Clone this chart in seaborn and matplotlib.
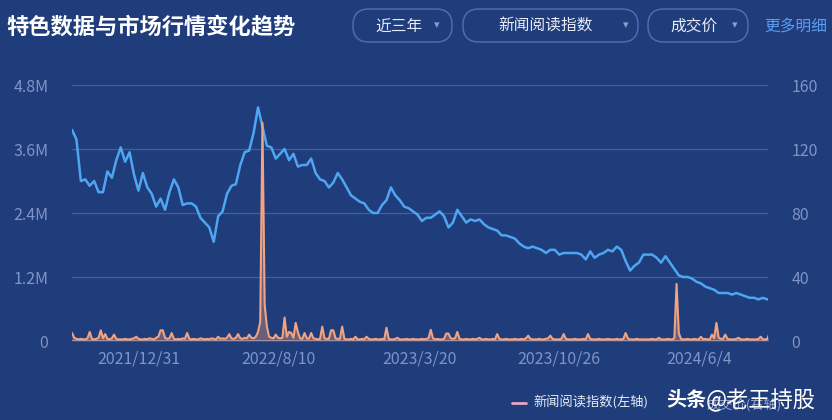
import numpy as np
import pandas as pd
import matplotlib
matplotlib.use('Agg')
import matplotlib.pyplot as plt
from matplotlib.patches import FancyBboxPatch
from matplotlib.ticker import FuncFormatter
import seaborn as sns

# dados lidos do grafico
# preco: valores semanais
datas_preco = pd.date_range('2021-09-17', '2024-09-20', freq='7D')
preco = [132, 126, 100, 101, 97, 100, 93, 93, 106, 102,
         113, 121, 112, 118, 104, 94, 105, 96, 92, 84,
         89, 82, 93, 101, 96, 85, 86, 86, 84, 77,
         74, 71, 62, 78, 81, 92, 97, 98, 110, 118,
         119, 130, 146, 134, 122, 121, 114, 117, 120, 113,
         117, 109, 110, 110, 114, 105, 101, 100, 96, 99,
         105, 101, 96, 91, 89, 87, 86, 82, 80, 80,
         85, 88, 96, 91, 88, 84, 83, 81, 79, 75,
         77, 77, 79, 81, 78, 71, 74, 82, 78, 74,
         76, 75, 76, 73, 71, 70, 69, 66, 66, 65,
         64, 61, 59, 58, 59, 58, 57, 55, 57, 57,
         54, 55, 55, 55, 55, 54, 51, 56, 52, 54,
         55, 57, 56, 59, 57, 50, 44, 47, 49, 54,
         54, 54, 52, 49, 53, 49, 45, 41, 40, 40,
         39, 37, 36, 34, 33, 32, 30, 30, 30, 29,
         30, 29, 28, 27, 27, 26, 27, 26]

# indice de leitura de noticias (milhoes), meia semana
datas_noticias = pd.date_range('2021-09-17', periods=316, freq='84h')
noticias = [0.15, 0.06, 0.04, 0.03, 0.04, 0.03, 0.03, 0.05, 0.17, 0.04, 0.03, 0.04, 0.06, 0.20, 0.05, 0.13, 0.04, 0.03, 0.05, 0.12,
            0.04, 0.03, 0.03, 0.03, 0.04, 0.03, 0.03, 0.04, 0.05, 0.08, 0.04, 0.03, 0.03, 0.04, 0.03, 0.05, 0.04, 0.03, 0.06, 0.08,
            0.20, 0.20, 0.06, 0.04, 0.05, 0.15, 0.04, 0.03, 0.04, 0.03, 0.05, 0.04, 0.15, 0.04, 0.03, 0.04, 0.03, 0.03, 0.05, 0.04,
            0.03, 0.04, 0.03, 0.05, 0.04, 0.03, 0.08, 0.04, 0.05, 0.04, 0.06, 0.13, 0.05, 0.04, 0.06, 0.13, 0.05, 0.04, 0.06, 0.05,
            0.12, 0.06, 0.05, 0.08, 0.17, 0.36, 4.09, 0.68, 0.27, 0.08, 0.06, 0.05, 0.12, 0.06, 0.05, 0.06, 0.44, 0.08, 0.17, 0.15,
            0.06, 0.34, 0.17, 0.05, 0.04, 0.15, 0.05, 0.04, 0.15, 0.05, 0.04, 0.03, 0.04, 0.27, 0.05, 0.04, 0.04, 0.20, 0.20, 0.05,
            0.04, 0.04, 0.27, 0.04, 0.03, 0.03, 0.04, 0.03, 0.08, 0.03, 0.03, 0.04, 0.03, 0.08, 0.04, 0.03, 0.03, 0.04, 0.03, 0.03,
            0.04, 0.03, 0.25, 0.04, 0.03, 0.03, 0.04, 0.06, 0.03, 0.03, 0.03, 0.04, 0.03, 0.03, 0.04, 0.03, 0.03, 0.03, 0.04, 0.03,
            0.04, 0.05, 0.21, 0.05, 0.03, 0.04, 0.03, 0.03, 0.04, 0.14, 0.14, 0.05, 0.04, 0.05, 0.17, 0.04, 0.03, 0.03, 0.04, 0.03,
            0.03, 0.04, 0.03, 0.04, 0.06, 0.03, 0.03, 0.04, 0.03, 0.03, 0.04, 0.03, 0.13, 0.04, 0.03, 0.03, 0.04, 0.03, 0.03, 0.03,
            0.04, 0.03, 0.03, 0.04, 0.03, 0.05, 0.10, 0.04, 0.03, 0.03, 0.03, 0.04, 0.03, 0.03, 0.04, 0.05, 0.10, 0.04, 0.03, 0.03,
            0.03, 0.04, 0.13, 0.04, 0.03, 0.03, 0.03, 0.04, 0.03, 0.03, 0.03, 0.04, 0.03, 0.13, 0.04, 0.03, 0.03, 0.03, 0.04, 0.03,
            0.03, 0.03, 0.04, 0.03, 0.03, 0.03, 0.04, 0.03, 0.03, 0.04, 0.15, 0.05, 0.03, 0.03, 0.03, 0.04, 0.03, 0.03, 0.03, 0.03,
            0.03, 0.03, 0.04, 0.03, 0.03, 0.06, 0.03, 0.03, 0.03, 0.04, 0.03, 0.03, 0.05, 1.07, 0.15, 0.04, 0.03, 0.03, 0.04, 0.03,
            0.03, 0.04, 0.03, 0.03, 0.08, 0.03, 0.04, 0.03, 0.03, 0.12, 0.05, 0.34, 0.06, 0.04, 0.04, 0.12, 0.04, 0.03, 0.03, 0.03,
            0.04, 0.06, 0.03, 0.03, 0.03, 0.04, 0.03, 0.03, 0.03, 0.03, 0.04, 0.08, 0.03, 0.03, 0.04, 0.15]

tick_datas = ['2021-12-31', '2022-08-10', '2023-03-20', '2023-10-26', '2024-06-04']
tick_labels = ['2021/12/31', '2022/8/10', '2023/3/20', '2023/10/26', '2024/6/4']

df_preco = pd.DataFrame({'Data': datas_preco, 'Preco': preco})
df_news = pd.DataFrame({'Data': datas_noticias, 'Noticias': np.array(noticias) * 1e6})

# cores
fundo = '#1f3c7b'
grade = '#41609f'
texto = '#8194c6'
laranja = '#f3a37f'
azul = '#4ea6f2'

sns.set_style('white')
plt.rcParams['font.family'] = ['Noto Sans CJK SC', 'DejaVu Sans']

fig = plt.figure(figsize=(8.32, 4.2), dpi=100, facecolor=fundo)
ax = fig.add_axes([72 / 832, 1 - 341 / 420, 696 / 832, 256 / 420])
ax.set_facecolor('none')
ax2 = ax.twinx()

sns.lineplot(data=df_preco, x='Data', y='Preco', ax=ax2, color=azul, linewidth=1.8)
sns.lineplot(data=df_news, x='Data', y='Noticias', ax=ax, color=laranja, linewidth=1.5)
ax.fill_between(df_news['Data'], df_news['Noticias'], color=laranja, alpha=0.35, linewidth=0)
ax.set_zorder(ax2.get_zorder() + 1)
ax.patch.set_visible(False)

ax.set_ylim(0, 4.8e6)
ax.set_yticks([0, 1.2e6, 2.4e6, 3.6e6, 4.8e6])
ax.yaxis.set_major_formatter(FuncFormatter(lambda v, p: '0' if v == 0 else f'{v / 1e6:.1f}M'))
ax2.set_ylim(0, 160)
ax2.set_yticks([0, 40, 80, 120, 160])
ax.set_xlim(datas_preco[0], datas_preco[-1] + pd.Timedelta(days=1))

ax.set_xticks(pd.to_datetime(tick_datas))
ax.set_xticklabels(tick_labels)

for a in (ax, ax2):
    a.set_xlabel('')
    a.set_ylabel('')
    for s in a.spines.values():
        s.set_visible(False)
    a.tick_params(length=0, colors=texto, labelsize=11.5)
ax.tick_params(axis='y', pad=17)
ax2.tick_params(axis='y', pad=17)
ax.tick_params(axis='x', pad=7)

ax2.yaxis.grid(True, color=grade, linewidth=0.9)
ax2.axhline(0, color='#8797c6', linewidth=1.2)

# camada de cima em pixels para titulo, botoes e legenda
ov = fig.add_axes([0, 0, 1, 1], zorder=20)
ov.set_xlim(0, 832)
ov.set_ylim(420, 0)
ov.axis('off')
ov.patch.set_visible(False)

ov.text(6, 27, '特色数据与市场行情变化趋势', color='white', fontsize=16,
        fontweight='bold', va='center', ha='left')

botoes = [(353, 452, '近三年', 399, 437), (463, 638, '新闻阅读指数', 546, 626), (648, 748, '成交价', 694, 735)]
for x0, x1, nome, cx, seta in botoes:
    ov.add_patch(FancyBboxPatch((x0, 9), x1 - x0, 33, boxstyle='round,pad=0,rounding_size=16',
                                facecolor='none', edgecolor='#4e6cb0', linewidth=1.1))
    ov.text(cx, 26, nome, color='#e6ebf7', fontsize=11.3, ha='center', va='center')
    ov.text(seta, 25, '▾', color='#8a9cca', fontsize=8, ha='center', va='center',
            family='DejaVu Sans')
ov.text(764, 26, '更多明细', color='#5a9cf0', fontsize=11.3, ha='left', va='center')

# legenda
ov.plot([512, 526], [403, 403], color='#e6a7c2', linewidth=2)
ov.text(533, 403, '新闻阅读指数(左轴)', color='#e6ebf7', fontsize=9.5, ha='left', va='center')
ov.text(707, 405, '成交价(右轴)', color='#9aa8cf', fontsize=9.5, ha='left', va='center')
ov.text(666, 400, '头条', color='white', fontsize=14.5, fontweight='bold', ha='left', va='center')
ov.text(706, 400, '@老王持股', color='white', fontsize=16, ha='left', va='center')

fig.savefig('out.png', dpi=100, facecolor=fundo)
